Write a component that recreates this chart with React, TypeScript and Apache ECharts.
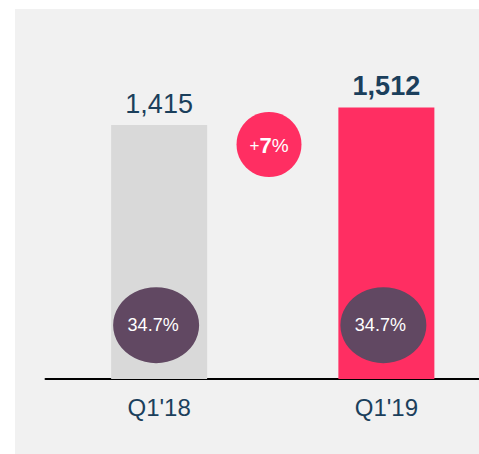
import React, { useEffect, useRef } from "react";
import * as echarts from "echarts";

const categories = ["Q1'18", "Q1'19"];
const revenue = [1415, 1512];
const margins = [34.7, 34.7];
const marginLevel = [300, 300];
const growthLabel = ["+", "7", "%"];

const NAVY = "#1b3f5c";
const FONT = "Liberation Sans, Arial, sans-serif";

export default function App() {
  const ref = useRef<HTMLDivElement>(null);
  useEffect(() => {
    if (!ref.current) return;
    const chart = echarts.init(ref.current, null, { renderer: "svg" });
    chart.setOption({
      animation: false,
      backgroundColor: "#f1f1f1",
      textStyle: { fontFamily: FONT },
      grid: { left: 30.5, right: 0, top: 11, bottom: 75, containLabel: false },
      xAxis: {
        type: "category",
        data: categories,
        axisLine: { show: true, lineStyle: { color: "#000", width: 2 } },
        axisTick: { show: false },
        axisLabel: { color: NAVY, fontSize: 24, margin: 16, fontFamily: FONT },
      },
      yAxis: {
        type: "value",
        min: 0,
        max: 2000,
        show: false,
        splitLine: { show: false },
      },
      series: [
        {
          type: "bar",
          barWidth: 96,
          data: revenue.map((v, i) => ({
            value: v,
            itemStyle: { color: i === 0 ? "#d9d9d9" : "#ff2e62" },
            label: {
              show: true,
              position: "top",
              distance: 8,
              color: NAVY,
              fontSize: 27,
              fontWeight: i === 0 ? "normal" : "bold",
              fontFamily: FONT,
              formatter: (p: any) => p.value.toLocaleString("en-US"),
            },
          })),
          z: 2,
        },
        {
          type: "scatter",
          symbol: "circle",
          symbolSize: [86, 76],
          symbolOffset: [-3, 0],
          itemStyle: { color: "#614862", opacity: 1 },
          data: marginLevel.map((v, i) => ({ value: v, m: margins[i] })),
          label: {
            show: true,
            position: "inside",
            offset: [-3, 0],
            color: "#ffffff",
            fontSize: 18,
            fontFamily: FONT,
            formatter: (p: any) => margins[p.dataIndex].toFixed(1) + "%",
          },
          z: 3,
        },
      ],
      graphic: [
        {
          type: "circle",
          shape: { cx: 254, cy: 135.5, r: 32.5 },
          style: { fill: "#ff2e62" },
          z: 10,
        },
        {
          type: "text",
          x: 254,
          y: 136,
          z: 11,
          style: {
            text: `{a|${growthLabel[0]}}{b|${growthLabel[1]}}{c|${growthLabel[2]}}`,
            align: "center",
            verticalAlign: "middle",
            fill: "#fff",
            fontFamily: FONT,
            rich: {
              a: { fontSize: 17, fill: "#fff", fontFamily: FONT },
              b: { fontSize: 22, fontWeight: "bold", fill: "#fff", fontFamily: FONT },
              c: { fontSize: 19, fill: "#fff", fontFamily: FONT },
            },
          },
        },
      ],
    });
    return () => chart.dispose();
  }, []);
  return (
    <div style={{ position: "absolute", left: 0, top: 0, width: 479, height: 454, background: "#fff", overflow: "hidden" }}>
      <div ref={ref} style={{ position: "absolute", left: 15, top: 9, width: 485, height: 445 }} />
    </div>
  );
}
